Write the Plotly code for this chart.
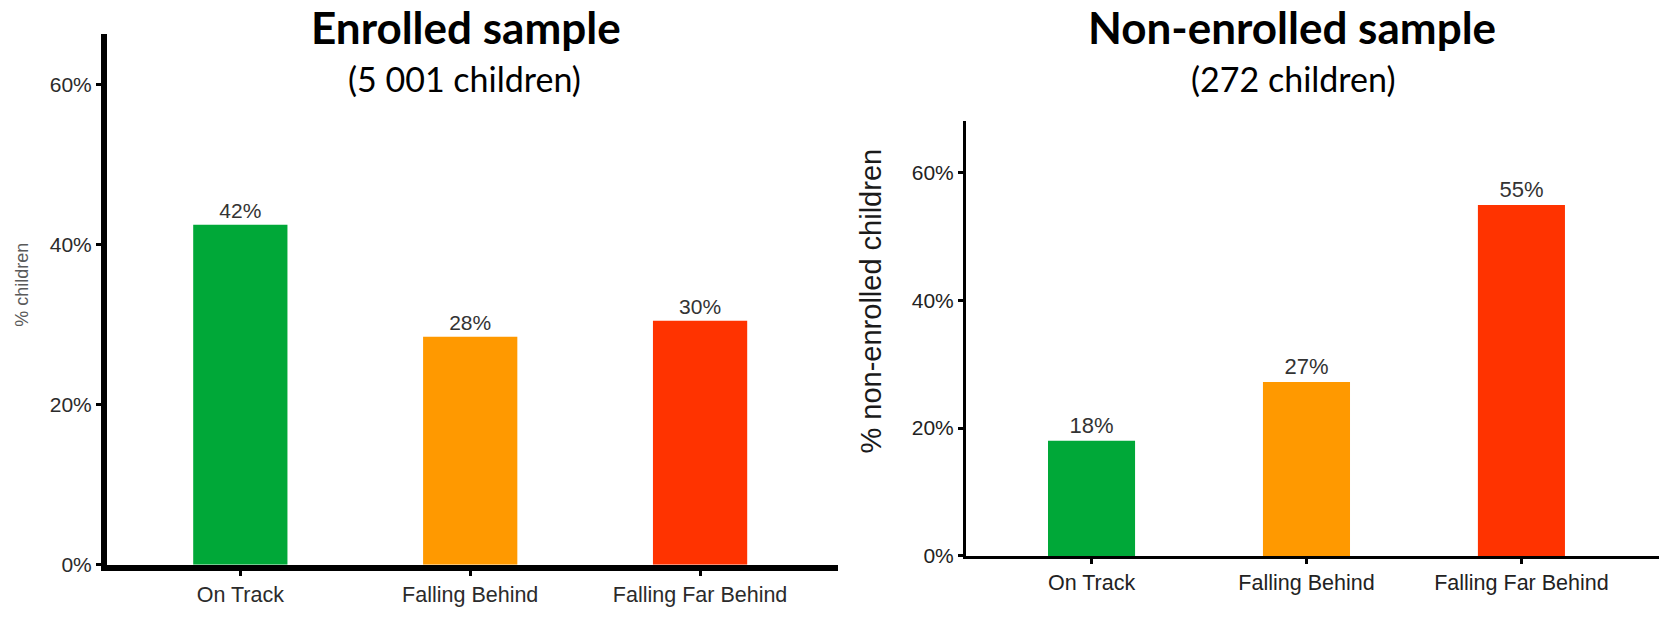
import plotly.graph_objects as go

categories = ["On Track", "Falling Behind", "Falling Far Behind"]
enrolled_values = [42.5, 28.5, 30.5]
enrolled_labels = ["42%", "28%", "30%"]
nonenrolled_values = [18.0, 27.2, 54.9]
nonenrolled_labels = ["18%", "27%", "55%"]
bar_colors = ["#00A838", "#FF9900", "#FF3300"]
y_ticks = [0, 20, 40, 60]
y_tick_labels = ["0%", "20%", "40%", "60%"]

W, H = 1664, 618
FONT = "Liberation Sans, Arial, sans-serif"
TFONT = "Lato, Open Sans, sans-serif"

def px_x(p):
    return p / W

def px_y(p):
    return 1 - p / H

fig = go.Figure()
fig.add_trace(go.Bar(
    x=categories, y=enrolled_values, text=enrolled_labels,
    textposition="outside", constraintext="none", cliponaxis=False,
    textfont=dict(family=FONT, size=21, color="#333333"),
    marker=dict(color=bar_colors, line=dict(width=0)),
    width=0.41, xaxis="x", yaxis="y", showlegend=False, hoverinfo="skip"))
fig.add_trace(go.Bar(
    x=categories, y=nonenrolled_values, text=nonenrolled_labels,
    textposition="outside", constraintext="none", cliponaxis=False,
    textfont=dict(family=FONT, size=22, color="#333333"),
    marker=dict(color=bar_colors, line=dict(width=0)),
    width=0.405, xaxis="x2", yaxis="y2", showlegend=False, hoverinfo="skip"))

common_y = dict(tickmode="array", tickvals=y_ticks, ticktext=y_tick_labels,
                showgrid=False, zeroline=False, showline=True, linecolor="black",
                ticks="outside", tickcolor="black", fixedrange=True)
common_x = dict(showgrid=False, zeroline=False, showline=True, linecolor="black",
                ticks="outside", tickcolor="black", type="category", fixedrange=True)

fig.update_layout(
    width=W, height=H, margin=dict(l=0, r=0, t=0, b=0),
    paper_bgcolor="white", plot_bgcolor="white",
    xaxis=dict(common_x, domain=[px_x(107), px_x(838)], range=[-0.58, 2.6], anchor="y",
               linewidth=6, tickwidth=3, ticklen=5,
               tickfont=dict(family=FONT, size=21.5, color="#2b2b2b")),
    yaxis=dict(common_y, domain=[px_y(575), px_y(35)], range=[0, 66.3], anchor="x",
               linewidth=6, tickwidth=3, ticklen=5,
               tickfont=dict(family=FONT, size=21, color="#2b2b2b")),
    xaxis2=dict(common_x, domain=[px_x(966), px_x(1659)], range=[-0.584, 2.64], anchor="y2",
                linewidth=3, tickwidth=3, ticklen=5,
                tickfont=dict(family=FONT, size=21.5, color="#222222")),
    yaxis2=dict(common_y, domain=[px_y(566), px_y(123)], range=[0, 68.05], anchor="x2",
                linewidth=3, tickwidth=3, ticklen=5,
                tickfont=dict(family=FONT, size=21, color="#222222")),
    annotations=[
        dict(text="<b>Enrolled sample</b>", x=px_x(466), y=px_y(27), xref="paper", yref="paper",
             showarrow=False, xanchor="center", yanchor="middle",
             font=dict(family=TFONT, size=44, color="black")),
        dict(text="(5 001 children)", x=px_x(464), y=px_y(80), xref="paper", yref="paper",
             showarrow=False, xanchor="center", yanchor="middle",
             font=dict(family=TFONT, size=34, color="black")),
        dict(text="<b>Non-enrolled sample</b>", x=px_x(1292), y=px_y(27), xref="paper", yref="paper",
             showarrow=False, xanchor="center", yanchor="middle",
             font=dict(family=TFONT, size=44, color="black")),
        dict(text="(272 children)", x=px_x(1293), y=px_y(80), xref="paper", yref="paper",
             showarrow=False, xanchor="center", yanchor="middle",
             font=dict(family=TFONT, size=34, color="black")),
        dict(text="% children", x=px_x(22), y=px_y(290), xref="paper", yref="paper",
             showarrow=False, xanchor="center", yanchor="middle", textangle=-90,
             font=dict(family=FONT, size=18, color="#5a5a5a")),
        dict(text="% non-enrolled children", x=px_x(871), y=px_y(307), xref="paper", yref="paper",
             showarrow=False, xanchor="center", yanchor="middle", textangle=-90,
             font=dict(family=FONT, size=29, color="#1a1a1a")),
    ],
)

fig.write_html("out.html", config={"displayModeBar": False})
